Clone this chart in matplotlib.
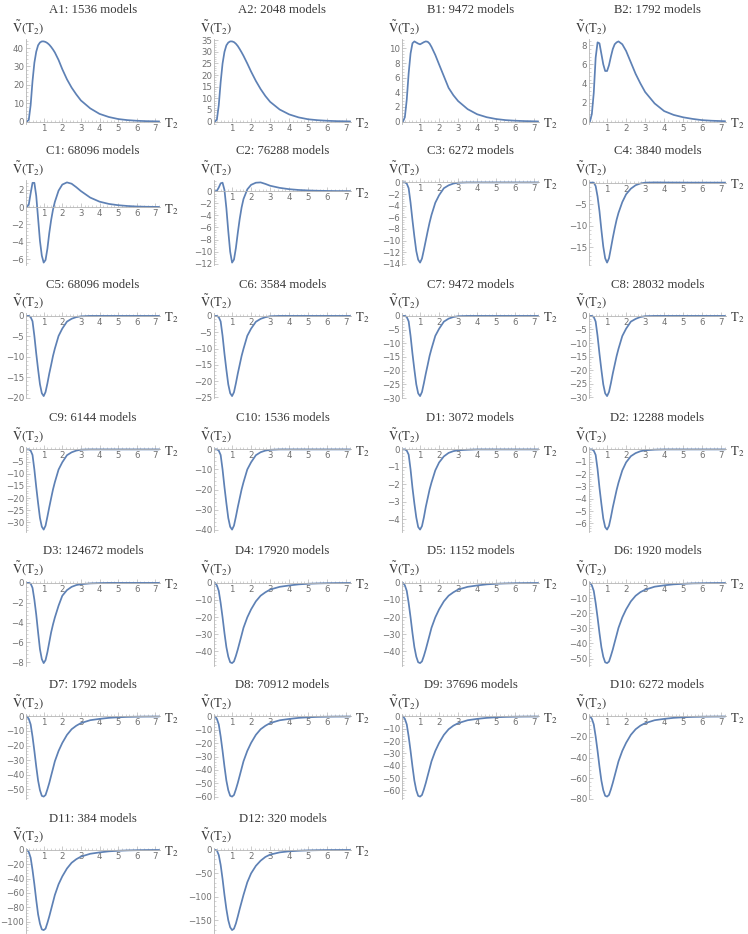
import matplotlib
matplotlib.use('Agg')
import matplotlib.pyplot as plt
from matplotlib.ticker import FixedLocator, AutoMinorLocator, MultipleLocator

plt.rcParams['mathtext.fontset'] = 'stix'

# ---------------- data ----------------
X = [0.1, 0.2, 0.3, 0.4, 0.5, 0.6, 0.7, 0.8, 0.9, 1.0, 1.1, 1.2, 1.3, 1.4, 1.5, 1.6,
     1.8, 2.0, 2.25, 2.5, 2.75, 3.0, 3.5, 4.0, 4.5, 5.0, 5.5, 6.0, 6.5, 7.2]

names = ["A1", "A2", "B1", "B2", "C1", "C2", "C3", "C4", "C5", "C6", "C7", "C8", "C9", "C10",
         "D1", "D2", "D3", "D4", "D5", "D6", "D7", "D8", "D9", "D10", "D11", "D12"]
counts = [1536, 2048, 9472, 1792, 68096, 76288, 6272, 3840, 68096, 3584, 9472, 28032, 6144, 1536,
          3072, 12288, 124672, 17920, 1152, 1920, 1792, 70912, 37696, 6272, 384, 320]

A1 = [0, 1, 9, 22, 32, 38, 41.5, 43, 43.6, 43.6, 43.3, 42.7, 41.8, 40.6, 39.2, 37.6, 33.5, 28.5, 23, 18.5, 14.8, 11.5, 7.2, 4.2, 2.5, 1.4, 0.8, 0.45, 0.25, 0.1]
A2 = [0, 0.8, 7, 17, 25, 30, 32.8, 34, 34.5, 34.5, 34.2, 33.5, 32.5, 31.2, 29.8, 28.3, 25, 21.5, 17.5, 14, 11, 8.5, 5.2, 3.1, 1.8, 1.0, 0.6, 0.35, 0.2, 0.08]
B1 = [0, 0.6, 3, 6.6, 9.3, 10.7, 10.95, 10.8, 10.65, 10.55, 10.7, 10.85, 10.95, 10.9, 10.65, 10.2, 9.1, 7.8, 6.2, 4.6, 3.6, 2.8, 1.7, 1.0, 0.6, 0.35, 0.2, 0.12, 0.07, 0.03]
B2 = [0, 0.8, 3.0, 6.7, 8.3, 8.2, 7.1, 6.0, 5.3, 5.3, 5.9, 6.8, 7.6, 8.1, 8.3, 8.4, 8.1, 7.4, 6.2, 5.0, 4.0, 3.1, 1.9, 1.1, 0.7, 0.45, 0.28, 0.15, 0.09, 0.04]
C1 = [0, 0.3, 1.6, 2.8, 2.8, 1.3, -1.3, -3.9, -5.6, -6.4, -6.1, -4.8, -3.0, -1.5, -0.3, 0.6, 1.9, 2.6, 2.85, 2.7, 2.3, 1.85, 1.1, 0.63, 0.37, 0.22, 0.13, 0.07, 0.04, 0.02]
C2 = [0, 0.05, 0.6, 1.3, 1.4, 0.2, -2.8, -6.6, -10.0, -11.8, -11.3, -9.4, -6.9, -4.6, -2.7, -1.3, 0.3, 1.05, 1.4, 1.45, 1.2, 0.9, 0.55, 0.33, 0.2, 0.12, 0.07, 0.04, 0.02, 0.01]
C3 = [0, 0, -0.2, -1.0, -3.5, -6.5, -9.3, -11.8, -13.3, -13.8, -13.1, -11.6, -10.0, -8.4, -6.9, -5.6, -3.5, -2.2, -1.0, -0.5, -0.2, -0.05, 0, 0, 0, 0, 0, 0, 0, 0]
C4 = [0, 0, 0, -0.8, -3.2, -6.6, -10.9, -14.8, -17.5, -18.5, -17.5, -15.2, -12.8, -10.6, -8.6, -7.0, -4.5, -2.7, -1.4, -0.6, -0.2, 0, 0.05, 0.03, 0.02, 0.01, 0, 0, 0, 0]
C5 = [0, 0, -0.3, -1.3, -4.9, -9.2, -13.1, -16.7, -18.9, -19.6, -18.6, -16.5, -14.1, -12, -9.8, -8.0, -4.9, -3.1, -1.4, -0.7, -0.3, -0.1, 0, 0, 0, 0, 0, 0, 0, 0]
C6 = [0, 0, -0.4, -1.7, -6.1, -11.6, -16.5, -21.0, -23.7, -24.6, -23.4, -20.7, -17.7, -15.0, -12.3, -10.1, -6.1, -3.9, -1.8, -0.9, -0.4, -0.1, 0, 0, 0, 0, 0, 0, 0, 0]
C7 = [0, 0, -0.4, -2, -7.3, -13.8, -19.6, -25.0, -28.3, -29.3, -27.8, -24.6, -21.1, -17.9, -14.6, -12.0, -7.3, -4.7, -2.1, -1.0, -0.4, -0.1, 0, 0, 0, 0, 0, 0, 0, 0]
C8 = [0, 0, -0.4, -2.1, -7.4, -13.9, -19.8, -25.2, -28.5, -29.5, -28, -24.8, -21.2, -18, -14.8, -12.1, -7.4, -4.7, -2.1, -1.1, -0.4, -0.1, 0, 0, 0, 0, 0, 0, 0, 0]
C9 = [0, 0, -0.5, -2.3, -8.3, -15.5, -22.1, -28.2, -31.8, -33, -31.4, -27.7, -23.8, -20.1, -16.5, -13.5, -8.3, -5.3, -2.4, -1.2, -0.5, -0.1, 0, 0, 0, 0, 0, 0, 0, 0]
C10 = [0, 0, -0.6, -2.8, -10, -18.8, -26.8, -34.2, -38.6, -40, -38, -33.6, -28.8, -24.4, -20, -16.4, -10, -6.4, -2.9, -1.4, -0.6, -0.2, 0, 0, 0, 0, 0, 0, 0, 0]
D1 = [0, 0, -0.07, -0.3, -1.15, -2.2, -3.1, -3.9, -4.45, -4.6, -4.4, -3.9, -3.3, -2.8, -2.3, -1.9, -1.2, -0.75, -0.4, -0.2, -0.1, -0.05, -0.02, 0, 0, 0, 0, 0, 0, 0]
D2 = [0, 0, -0.1, -0.45, -1.6, -3.1, -4.4, -5.6, -6.3, -6.5, -6.2, -5.5, -4.7, -4, -3.3, -2.7, -1.7, -1.05, -0.55, -0.3, -0.15, -0.07, -0.02, 0, 0, 0, 0, 0, 0, 0]
D3 = [0, 0, -0.07, -0.5, -1.7, -3.2, -5.0, -6.7, -7.7, -8.1, -7.8, -7.0, -6.0, -5.0, -4.2, -3.5, -2.3, -1.3, -0.73, -0.4, -0.22, -0.13, -0.05, -0.02, 0, 0, 0, 0, 0, 0]
D4 = [0, -1.4, -4.7, -11.8, -20.2, -29.4, -37.6, -43.2, -46.5, -47, -46, -42.8, -39, -34.8, -30.6, -26.3, -20.2, -15.5, -10.8, -7.5, -5.5, -3.9, -2.3, -1.5, -0.85, -0.5, -0.3, -0.17, -0.1, -0.05]
D5 = [0, -1.4, -4.7, -11.8, -20.2, -29.4, -37.6, -43.2, -46.5, -47, -46, -42.8, -39, -34.8, -30.6, -26.3, -20.2, -15.5, -10.8, -7.5, -5.5, -3.9, -2.3, -1.5, -0.85, -0.5, -0.3, -0.17, -0.1, -0.05]
D6 = [0, -1.6, -5.3, -13.3, -22.8, -33.1, -42.4, -48.8, -52.5, -53, -52, -48.2, -44, -39.2, -34.5, -29.7, -22.8, -17.5, -12.2, -8.5, -6.1, -4.5, -2.5, -1.6, -0.95, -0.6, -0.3, -0.2, -0.1, -0.05]
D7 = [0, -1.7, -5.5, -13.8, -23.7, -34.4, -44, -50.6, -54.5, -55, -53.9, -50, -45.7, -40.7, -35.8, -30.8, -23.7, -18.2, -12.7, -8.8, -6.4, -4.6, -2.6, -1.7, -1, -0.6, -0.33, -0.2, -0.11, -0.06]
D8 = [0, -1.8, -6, -15, -25.8, -37.5, -48, -55.2, -59.4, -60, -58.8, -54.6, -49.8, -44.4, -39, -33.6, -25.8, -19.8, -13.8, -9.6, -7, -5, -2.9, -1.9, -1.1, -0.66, -0.36, -0.22, -0.12, -0.06]
D9 = [0, -2, -6.5, -16.3, -28, -40.6, -52, -59.8, -64.4, -65, -63.7, -59.2, -54, -48.1, -42.3, -36.4, -28, -21.5, -15, -10.4, -7.5, -5.5, -3.1, -2, -1.2, -0.7, -0.4, -0.23, -0.13, -0.07]
D10 = [0, -2.3, -7.8, -19.5, -33.5, -48.8, -62.4, -71.8, -77.2, -78, -76.4, -71, -64.7, -57.7, -50.7, -43.7, -33.5, -25.7, -17.9, -12.5, -9.0, -6.6, -3.7, -2.4, -1.4, -0.86, -0.47, -0.28, -0.16, -0.08]
D11 = [0, -3, -11, -28, -48, -70, -90, -103, -111, -112, -110, -102, -93, -83, -73, -63, -48, -37, -26, -18, -13, -9.4, -5.4, -3.5, -2.0, -1.2, -0.7, -0.4, -0.2, -0.1]
D12 = [0, -1, -11, -32, -62, -96, -126, -150, -165, -171, -168, -157, -142, -126, -111, -96, -69, -50, -34, -23, -15, -10, -5.3, -3, -1.8, -1, -0.6, -0.3, -0.2, -0.1]

series = [A1, A2, B1, B2, C1, C2, C3, C4, C5, C6, C7, C8, C9, C10,
          D1, D2, D3, D4, D5, D6, D7, D8, D9, D10, D11, D12]

xticks = [1, 2, 3, 4, 5, 6, 7]
yticks = [
    [0, 10, 20, 30, 40], [0, 5, 10, 15, 20, 25, 30, 35], [0, 2, 4, 6, 8, 10], [0, 2, 4, 6, 8],
    [-6, -4, -2, 0, 2], [-12, -10, -8, -6, -4, -2, 0, 2], [-14, -12, -10, -8, -6, -4, -2, 0], [-15, -10, -5, 0],
    [-20, -15, -10, -5, 0], [-25, -20, -15, -10, -5, 0], [-30, -25, -20, -15, -10, -5, 0], [-30, -25, -20, -15, -10, -5, 0],
    [-30, -25, -20, -15, -10, -5, 0], [-40, -30, -20, -10, 0], [-4, -3, -2, -1, 0], [-6, -5, -4, -3, -2, -1, 0],
    [-8, -6, -4, -2, 0], [-40, -30, -20, -10, 0], [-40, -30, -20, -10, 0], [-50, -40, -30, -20, -10, 0],
    [-50, -40, -30, -20, -10, 0], [-60, -50, -40, -30, -20, -10, 0], [-60, -50, -40, -30, -20, -10, 0], [-80, -60, -40, -20, 0],
    [-100, -80, -60, -40, -20, 0], [-150, -100, -50, 0],
]

# ---------------- layout ----------------
W, H = 748, 934
fig = plt.figure(figsize=(W / 100, H / 100), dpi=100)

col_right = [160, 351, 539, 726]
row_title = [10, 151, 284.5, 418, 551.5, 685, 818.5]

LINE = '#5E81B5'
AXC = '#b5b5b5'
TXT = '#3a3a3a'

for i, (nm, cnt, ys, yt) in enumerate(zip(names, counts, series, yticks)):
    r, c = divmod(i, 4)
    right = col_right[c]
    left = right - 137 if c > 0 else right - 134
    tt = row_title[r]
    top = tt + 29
    bottom = tt + 114
    ax = fig.add_axes([left / W, 1 - bottom / H, (right - left) / W, (bottom - top) / H])
    ax.patch.set_alpha(0)
    ax.plot(X, ys, color=LINE, lw=1.25, solid_joinstyle='round', solid_capstyle='round')
    lo = min(min(ys), 0)
    hi = max(max(ys), 0)
    pad = 0.03 * (hi - lo)
    ax.set_ylim(lo - pad, hi + pad)
    ax.set_xlim(0.05, 7.25)
    for s in ('top', 'right'):
        ax.spines[s].set_visible(False)
    ax.spines['bottom'].set_position(('data', 0))
    for s in ('bottom', 'left'):
        ax.spines[s].set_color(AXC)
        ax.spines[s].set_linewidth(0.6)
    ax.xaxis.set_major_locator(FixedLocator(xticks))
    ax.yaxis.set_major_locator(FixedLocator(yt))
    ax.xaxis.set_minor_locator(MultipleLocator(0.2))
    ax.yaxis.set_minor_locator(AutoMinorLocator(5))
    ax.tick_params(which='major', direction='in', length=2.6, width=0.5, color=AXC,
                   labelsize=6.2, labelcolor='#707070', pad=1.5)
    ax.tick_params(which='minor', direction='in', length=1.3, width=0.4, color=AXC)
    fig.text(((left + right) / 2) / W, 1 - tt / H, f"{nm}: {cnt} models",
             ha='center', va='center', fontsize=9.2, family='Liberation Serif', color=TXT)
    fig.text(max(left - 14, 3) / W, 1 - (tt + 17) / H, r'$\tilde{\mathrm{V}}(\mathrm{T}_2)$',
             ha='left', va='center', fontsize=9.2, color=TXT)
    y0 = top + (hi + pad) / (hi - lo + 2 * pad) * (bottom - top)
    fig.text((right + 4) / W, 1 - (y0 + 2) / H, r'$\mathrm{T}_2$',
             ha='left', va='center', fontsize=9.2, color=TXT)

fig.savefig('out.png', dpi=100, facecolor='white')
